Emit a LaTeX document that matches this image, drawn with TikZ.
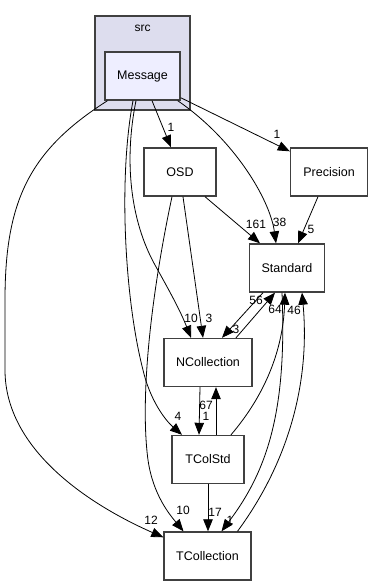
\documentclass[tikz,border=0pt]{standalone}
\usepackage{fontspec}
\setmainfont{Liberation Sans}
\usepackage{tikz}
\usetikzlibrary{arrows.meta}
\definecolor{srcfill}{RGB}{221,221,238}
\definecolor{msgfill}{RGB}{238,238,255}
\definecolor{boxline}{RGB}{64,64,64}

\tikzset{
  dirbox/.style={draw=boxline, line width=1.4pt, minimum height=48pt, inner sep=0pt,
    font=\fontsize{12.5}{14}\selectfont},
  dep/.style={-{Triangle[length=12pt,width=9.5pt]}, line width=0.8pt},
  cnt/.style={font=\fontsize{12}{14}\selectfont, inner sep=0pt},
}

\begin{document}
\begin{tikzpicture}[x=1pt,y=-1pt]
\useasboundingbox (0,0) rectangle (373,585);
% Folder src
\node[dirbox, fill=srcfill, minimum width=95pt, minimum height=94pt] (src) at (142.5,63) {};
\node[cnt] (srclbl) at (142.5,28) {src};
% Directories
\node[dirbox, fill=msgfill, minimum width=75pt] (msg) at (142.5,76) {Message};
\node[dirbox, minimum width=72pt] (osd) at (180,172) {OSD};
\node[dirbox, minimum width=77pt] (prec) at (329,172) {Precision};
\node[dirbox, minimum width=75pt] (std) at (287,268) {Standard};
\node[dirbox, minimum width=88pt] (ncol) at (208,362.5) {NCollection};
\node[dirbox, minimum width=72pt] (tcs) at (208,459.5) {TColStd};
\node[dirbox, minimum width=87pt] (tcol) at (207.5,556) {TCollection};
% Dependencies of Message
\draw[dep] ([xshift=9.5pt]msg.south) -- ([xshift=-9pt]osd.north);
\draw[dep] ([yshift=3pt]msg.south east) -- ([yshift=-4pt]prec.north west);
\draw[dep] ([xshift=-3pt]msg.south east) .. controls (235,140) and (270,200) .. ([xshift=-11pt]std.north);
\draw[dep] ([xshift=-35pt]msg.south) .. controls (30,150) and (5,200) .. (5,300) -- (5,370)
  .. controls (5,450) and (90,505) .. ([yshift=-6pt]tcol.north west);
\draw[dep] ([xshift=-6.5pt]msg.south) .. controls (124,160) and (130,220) .. (155,265)
  .. controls (170,292) and (180,310) .. ([xshift=-17pt]ncol.north);
\draw[dep] ([xshift=-9.5pt]msg.south) .. controls (118,180) and (125,300) .. (143,370)
  .. controls (150,400) and (165,420) .. ([xshift=-26pt]tcs.north);
% Dependencies of OSD and Precision
\draw[dep] ([xshift=3pt]osd.south) -- ([xshift=-5pt]ncol.north);
\draw[dep] ([xshift=-8pt]osd.south) .. controls (150,300) and (140,400) .. (148,460)
  .. controls (153,495) and (170,515) .. ([xshift=-24pt]tcol.north);
\draw[dep] ([xshift=25pt]osd.south) -- ([xshift=-27pt]std.north);
\draw[dep] ([xshift=-11pt]prec.south) -- ([xshift=11pt]std.north);
% Between Standard and the collections
\draw[dep] ([xshift=28pt]ncol.north) -- ([xshift=-12pt]std.south);
\draw[dep] ([xshift=-24pt]std.south) -- ([xshift=14pt]ncol.north);
\draw[dep] ([xshift=23pt]tcs.north) .. controls (265,395) and (283,350) .. ([xshift=-2pt]std.south);
\draw[dep] ([xshift=-5pt]std.south) .. controls (287,410) and (268,470) .. ([xshift=14pt]tcol.north);
\draw[dep] ([xshift=30pt]tcol.north) .. controls (290,460) and (310,380) .. ([xshift=15pt]std.south);
\draw[dep] ([xshift=-8pt]ncol.south) -- ([xshift=-9pt]tcs.north);
\draw[dep] ([xshift=8pt]tcs.north) -- ([xshift=8pt]ncol.south);
\draw[dep] (tcs.south) -- ([xshift=0.5pt]tcol.north);
% Counts
\node[cnt] (c-osd) at (171,127) {1};
\node[cnt] (c-prec) at (277,134) {1};
\node[cnt] (c-msgstd) at (279.5,222) {38};
\node[cnt] (c-osdstd) at (256,224) {161};
\node[cnt] (c-precstd) at (311,229) {5};
\node[cnt] (c-msgncol) at (191,318) {10};
\node[cnt] (c-osdncol) at (209,318) {3};
\node[cnt] (c-ncolstd) at (256,300) {56};
\node[cnt] (c-tcsstd) at (275,309) {64};
\node[cnt] (c-tcolstd) at (294,310) {46};
\node[cnt] (c-stdncol) at (236,329) {3};
\node[cnt] (c-tcsncol) at (206,405) {67};
\node[cnt] (c-ncoltcs) at (206,416) {1};
\node[cnt] (c-msgtcs) at (178,416) {4};
\node[cnt] (c-osdtcol) at (183,510) {10};
\node[cnt] (c-tcstcol) at (215,512) {17};
\node[cnt] (c-stdtcol) at (230,520) {1};
\node[cnt] (c-msgtcol) at (151,520) {12};
\end{tikzpicture}
\end{document}
